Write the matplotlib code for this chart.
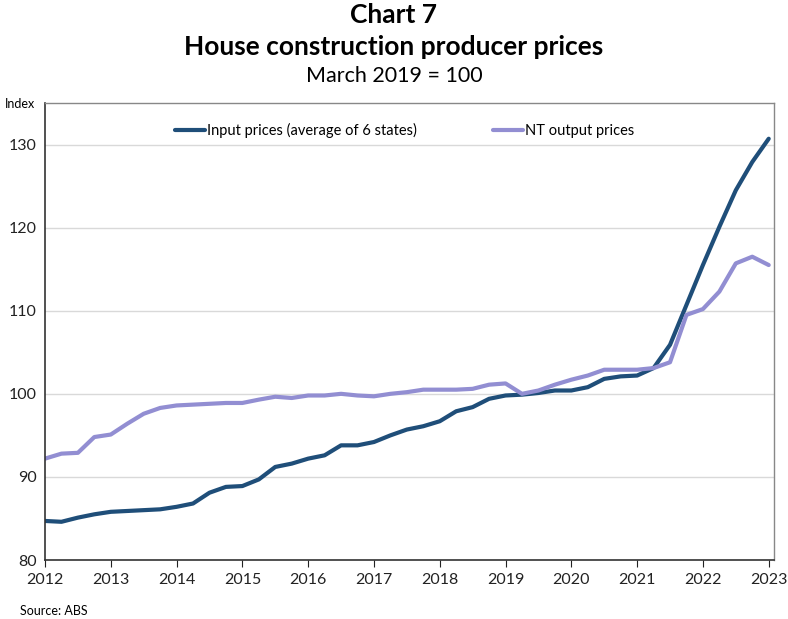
import matplotlib.pyplot as plt
import numpy as np

plt.rcParams['font.family'] = ['Lato', 'DejaVu Sans']

years = [str(y) for y in range(2012, 2024)]

# quarterly, March 2012 .. March 2023
input_prices = [84.7, 84.6, 85.1, 85.5,
                85.8, 85.9, 86.0, 86.1,
                86.4, 86.8, 88.1, 88.8,
                88.9, 89.7, 91.2, 91.6,
                92.2, 92.6, 93.8, 93.8,
                94.2, 95.0, 95.7, 96.1,
                96.7, 97.9, 98.4, 99.4,
                99.8, 99.9, 100.1, 100.4,
                100.4, 100.8, 101.8, 102.1,
                102.2, 103.1, 105.9, 110.7,
                115.5, 120.1, 124.5, 127.9,
                130.7]
nt_output = [92.2, 92.8, 92.9, 94.8,
             95.1, 96.4, 97.6, 98.3,
             98.6, 98.7, 98.8, 98.9,
             98.9, 99.3, 99.65, 99.5,
             99.8, 99.8, 100.0, 99.8,
             99.7, 100.0, 100.2, 100.5,
             100.5, 100.5, 100.6, 101.1,
             101.25, 100.0, 100.4, 101.1,
             101.7, 102.2, 102.9, 102.9,
             102.9, 103.1, 103.8, 109.5,
             110.2, 112.3, 115.7, 116.5,
             115.5]

x = 2012 + np.arange(len(input_prices)) * 0.25

fig = plt.figure(figsize=(7.88, 6.19), dpi=100)
ax = fig.add_axes([0.0571, 0.0953, 0.9251, 0.7383])

ax.plot(x, input_prices, color='#1f4e79', lw=3, solid_capstyle='round',
        label='Input prices (average of 6 states)')
ax.plot(x, nt_output, color='#928ed2', lw=3, solid_capstyle='round',
        label='NT output prices')

ax.set_xlim(2012, 2023.08)
ax.set_ylim(80, 135)
ax.set_yticks([80, 90, 100, 110, 120, 130])
ax.set_xticks(range(2012, 2024))
ax.set_xticklabels(years)
ax.yaxis.grid(True, color='#d9d9d9', lw=1)
ax.set_axisbelow(True)
ax.tick_params(axis='y', length=0, labelsize=11.5, colors='#222222', pad=6)
ax.tick_params(axis='x', length=5, direction='out', labelsize=11.5, colors='#222222', pad=4)
for s in ['left', 'bottom']:
    ax.spines[s].set_color('#333333')
    ax.spines[s].set_linewidth(1.2)
for s in ['top', 'right']:
    ax.spines[s].set_color('#888888')
    ax.spines[s].set_linewidth(1)

ax.legend(loc='upper center', bbox_to_anchor=(0.493, 0.985), ncol=2, frameon=False,
          fontsize=10.5, handlelength=2.1, handletextpad=0.1, columnspacing=5.2)

fig.text(0.5, 0.976, 'Chart 7', ha='center', va='center', fontsize=19, fontweight='bold')
fig.text(0.5, 0.924, 'House construction producer prices', ha='center', va='center',
         fontsize=19, fontweight='bold')
fig.text(0.5, 0.877, 'March 2019 = 100', ha='center', va='center', fontsize=15.5)
fig.text(0.006, 0.832, 'Index', ha='left', va='center', fontsize=9)
fig.text(0.025, 0.004, 'Source: ABS', ha='left', va='bottom', fontsize=9)

fig.savefig('out.png', dpi=100)
